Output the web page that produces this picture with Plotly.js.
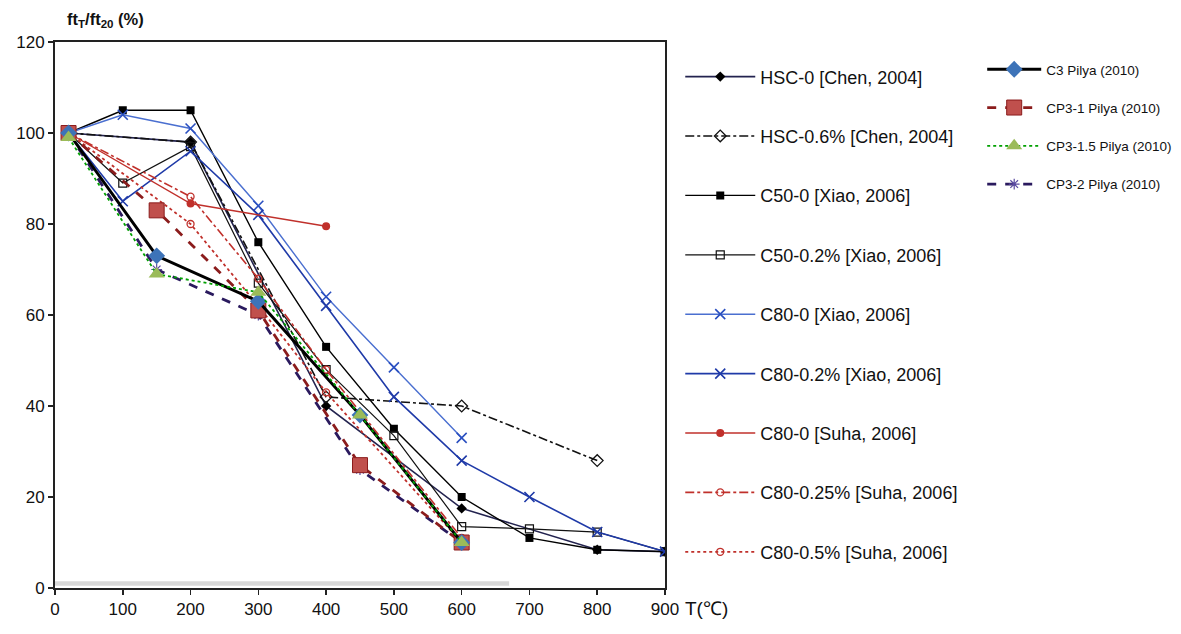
<!DOCTYPE html>
<html>
<head>
<meta charset="utf-8">
<script src="https://cdn.plot.ly/plotly-3.0.1.min.js"></script>
<style>html,body{margin:0;padding:0;background:#fff;}#chart{width:1181px;height:634px;}</style>
</head>
<body>
<div id="chart"></div>
<script>
// ---- data ----
const xTicks = [0,100,200,300,400,500,600,700,800,900];
const yTicks = [0,20,40,60,80,100,120];

const hsc0T = [20,200,400,600,800,900];
const hsc0V = [100,98,40,17.5,8.4,8];
const hsc06T = [20,200,400,600,800];
const hsc06V = [100,98,42,40,28];
const c50T = [20,100,200,300,400,500,600,700,800,900];
const c50V = [100,105,105,76,53,35,20,11,8.4,8];
const c5002T = [20,100,200,300,400,500,600,700,800,900];
const c5002V = [100,89,97,67,48,33.5,13.5,13,12.3,8];
const c80xT = [20,100,200,300,400,500,600];
const c80xV = [100,104,101,84,64,48.5,33];
const c8002xT = [20,100,200,300,400,500,600,700,800,900];
const c8002xV = [100,85,96,82,62,42,28,20,12.3,8];
const c80sT = [20,200,400];
const c80sV = [100,84.5,79.5];
const c80025sT = [20,200,300,400,600];
const c80025sV = [100,86,68,48,11];
const c8005sT = [20,200,300,400,600];
const c8005sV = [100,80,62,43,10];

const pliyaT = [20,150,300,450,600];
const c3V = [100,73,63,38,10];
const cp31V = [100,83,61,27,10];
const cp315V = [99,69,65,38,10];
const cp32V = [100,70,60,26,10];

const names1 = ['HSC-0 [Chen, 2004]','HSC-0.6% [Chen, 2004]','C50-0 [Xiao, 2006]','C50-0.2% [Xiao, 2006]',
  'C80-0 [Xiao, 2006]','C80-0.2% [Xiao, 2006]','C80-0 [Suha, 2006]','C80-0.25% [Suha, 2006]','C80-0.5% [Suha, 2006]'];
const names2 = ['C3 Pilya (2010)','CP3-1 Pilya (2010)','CP3-1.5 Pilya (2010)','CP3-2 Pilya (2010)'];

function tr(x,y,name,lg,grp,line,marker){
  return {type:'scatter',mode:'lines+markers',x:x,y:y,name:name,legend:lg,legendgroup:grp,line:line,marker:marker};
}

const traces = [
  tr(hsc0T,hsc0V,names1[0],'legend','a1',{color:'#23234f',width:1.6},{symbol:'diamond',size:8,color:'#000'}),
  tr(hsc06T,hsc06V,names1[1],'legend','a2',{color:'#111',width:1.6,dash:'dashdot'},{symbol:'diamond-open',size:9,color:'#111',line:{width:1.3}}),
  tr(c50T,c50V,names1[2],'legend','a3',{color:'#000',width:1.4},{symbol:'square',size:8,color:'#000'}),
  tr(c5002T,c5002V,names1[3],'legend','a4',{color:'#111',width:1.2},{symbol:'square-open',size:8,color:'#111',line:{width:1.2}}),
  tr(c80xT,c80xV,names1[4],'legend','a5',{color:'#4a6fd0',width:1.4},{symbol:'x-thin-open',size:10,color:'#2a4fc0',line:{width:1.6,color:'#2a4fc0'}}),
  tr(c8002xT,c8002xV,names1[5],'legend','a6',{color:'#1f3aa8',width:1.6},{symbol:'x-thin-open',size:10,color:'#1f3aa8',line:{width:1.6,color:'#1f3aa8'}}),
  tr(c80sT,c80sV,names1[6],'legend','a7',{color:'#c0302b',width:1.4},{symbol:'circle',size:8,color:'#c0302b'}),
  tr(c80025sT,c80025sV,names1[7],'legend','a8',{color:'#c0302b',width:1.6,dash:'dashdot'},{symbol:'circle-open',size:7,color:'#c0302b',line:{width:1.3}}),
  tr(c8005sT,c8005sV,names1[8],'legend','a9',{color:'#c0302b',width:1.8,dash:'dot'},{symbol:'circle-open',size:7,color:'#c0302b',line:{width:1.3}}),
  tr(pliyaT,cp32V,names2[3],'legend2','b4',{color:'#2a1a5e',width:2.8,dash:'dash'},{symbol:'asterisk-open',size:9,color:'#5a4aa0',line:{width:1.2,color:'#5a4aa0'}}),
  tr(pliyaT,cp31V,names2[1],'legend2','b2',{color:'#8b1c1c',width:2.8,dash:'dash'},{symbol:'square',size:15,color:'#c0504d',line:{width:1,color:'#8b1c1c'}}),
  tr(pliyaT,c3V,names2[0],'legend2','b1',{color:'#000',width:3},{symbol:'diamond',size:13,color:'#3d73b8'}),
  tr(pliyaT,cp315V,names2[2],'legend2','b3',{color:'#00a000',width:1.8,dash:'dot'},{symbol:'triangle-up',size:14,color:'#9bbb59'})
];

const layout = {
  width:1181, height:634,
  margin:{l:55,r:516,t:42,b:46,autoexpand:false},
  paper_bgcolor:'#fff', plot_bgcolor:'#fff',
  font:{family:'Liberation Sans, Arial, sans-serif',color:'#111',size:16},
  showlegend:true,
  xaxis:{range:[0,900],tickvals:xTicks,ticks:'outside',ticklen:5,tickwidth:1.5,tickcolor:'#222',
    showline:true,linewidth:2,linecolor:'#222',mirror:true,showgrid:false,zeroline:false,
    tickfont:{size:17},fixedrange:true},
  yaxis:{range:[0,120],tickvals:yTicks,ticks:'outside',ticklen:5,tickwidth:1.5,tickcolor:'#222',
    showline:true,linewidth:2,linecolor:'#222',mirror:true,showgrid:false,zeroline:false,
    tickfont:{size:17},fixedrange:true},
  legend:{x:1.025,y:0.97,xanchor:'left',yanchor:'top',font:{size:18,color:'#111'},
    tracegroupgap:33,traceorder:'grouped',bgcolor:'rgba(0,0,0,0)',itemwidth:70},
  legend2:{x:1.52,y:0.978,xanchor:'left',yanchor:'top',font:{size:13.5,color:'#111'},
    tracegroupgap:17.7,traceorder:'grouped',bgcolor:'rgba(0,0,0,0)',itemwidth:54},
  shapes:[{type:'rect',xref:'x',yref:'y',x0:0,x1:670,y0:0.5,y1:1.5,fillcolor:'#d8d8d8',line:{width:0},layer:'below'}],
  annotations:[
    {xref:'paper',yref:'paper',x:0.016,y:1.04,xanchor:'left',yanchor:'middle',showarrow:false,
      text:'<b>ft<sub>T</sub>/ft<sub>20</sub> (%)</b>',font:{size:16.5,color:'#111'}},
    {xref:'paper',yref:'paper',x:1.03,y:-0.037,xanchor:'left',yanchor:'middle',showarrow:false,
      text:'T(℃)',font:{size:19,color:'#111'}}
  ]
};

traces.forEach(t=>{
  const i1 = names1.indexOf(t.name), i2 = names2.indexOf(t.name);
  t.legendrank = i1>=0 ? i1+1 : i2+1;
});

Plotly.newPlot('chart',traces,layout,{displayModeBar:false,staticPlot:true});
</script>
</body>
</html>
